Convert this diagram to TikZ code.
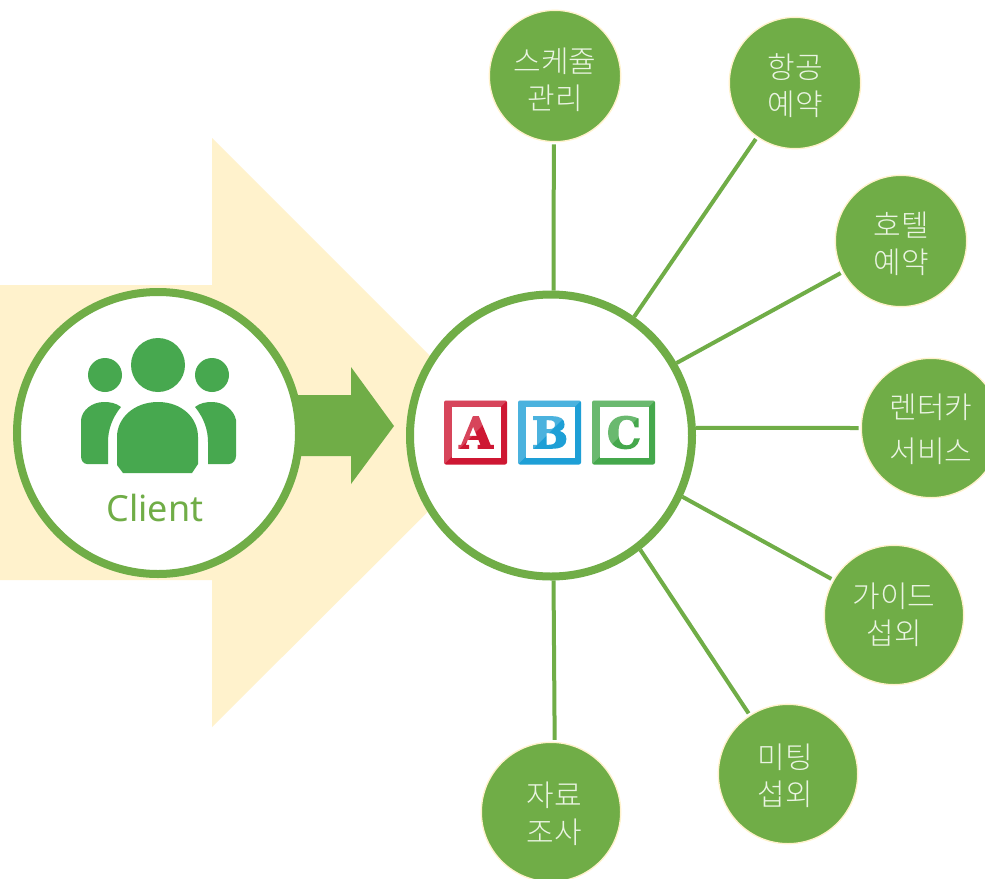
\documentclass[tikz,border=0pt]{standalone}
\usepackage{fontspec}
\newfontfamily\cjk{Noto Sans CJK KR Light}[Script=Hangul]
\newfontfamily\lat{Noto Sans}
\newfontfamily\blockf{DejaVu Serif Bold}[FakeBold=3.5]
\definecolor{gr}{HTML}{70AD47}
\definecolor{ico}{HTML}{47A84F}
\definecolor{pale}{HTML}{FFF2CC}
\definecolor{txt}{HTML}{EAF4E2}
\definecolor{bred}{HTML}{CE1733}
\definecolor{bblue}{HTML}{1E9FD6}
\definecolor{bgreen}{HTML}{45A84C}
\tikzset{
  x=0.75pt,y=-0.75pt,
  sat/.style={circle,fill=gr,draw=pale,line width=1pt,inner sep=0pt,text=txt,
    font=\cjk\fontsize{22.5}{27.75}\selectfont},
  satbig/.style={sat,font=\cjk\fontsize{22.5}{33}\selectfont},
  ring/.style={circle,fill=white,draw=gr,line width=6pt,inner sep=0pt},
  spoke/.style={draw=gr,line width=3pt,shorten >=1.5pt},
  blockletter/.style={font=\blockf\fontsize{32}{32}\selectfont,inner sep=0pt},
}
% two centred lines, moved by #1 px right and #2 px down inside the circle
\newcommand{\sattext}[4]{\hskip\dimexpr 1.5pt*#1\relax\vbox{\vskip\dimexpr 1.5pt*#2\relax\halign{\hfil##\hfil\cr#3\cr#4\cr}}}
\newcommand{\abcblock}[3]{%
  \fill[#3,rounded corners=1.5pt] (#1,400.5) rectangle ++(63,64);
  \fill[white] (#1+7.5,407) rectangle ++(49,51);
  \node[blockletter,text=#3] at (#1+32,432.5) {#2};
  \fill[white,opacity=.2] (#1,400.5) -- (#1+63,400.5) -- (#1,464.5) -- cycle;
}
\begin{document}
\begin{tikzpicture}
\clip (0,0) rectangle (985,878);
\fill[white] (0,0) rectangle (985,878);
% big background arrow
\fill[pale] (0,285) -- (212,285) -- (212,138) -- (507,433) -- (212,727) -- (212,580) -- (0,580) -- cycle;
% nodes
\node[ring,minimum size=211.5pt] (hub) at (551,435.5) {};
\node[ring,minimum size=211.5pt] (client) at (158,433) {};
\node[sat,minimum size=98.5pt] (c1) at (555,76) {\sattext{0}{4}{스케쥴}{관리}};
\node[sat,minimum size=98.5pt] (c2) at (795,83) {\sattext{0}{3}{항공}{예약}};
\node[sat,minimum size=98.5pt] (c3) at (901,241) {\sattext{0}{3}{호텔}{예약}};
\node[satbig,minimum size=104.5pt] (c4) at (931,428) {\sattext{0}{1}{렌터카}{서비스}};
\node[sat,minimum size=104.5pt] (c5) at (894,615) {\sattext{0}{0}{가이드}{섭외}};
\node[sat,minimum size=104.5pt] (c6) at (788,774) {\sattext{-3}{2}{미팅}{섭외}};
\node[sat,minimum size=104.5pt] (c7) at (551,812) {\sattext{3}{2}{자료}{조사}};
% connectors
\path[spoke] (hub.89.2) -- (c1.269);
\path[spoke] (hub.55) -- (c2.235.8);
\path[spoke] (hub.30.7) -- (c3.208.9);
\path[spoke] (hub.3) -- (c4.180);
\path[spoke] (hub.-25.3) -- (c5.150.6);
\path[spoke] (hub.-52.7) -- (c6.123.5);
\path[spoke] (hub.-89.2) -- (c7.87.8);
% block arrow
\fill[gr] (298,395) -- (351,395) -- (351,367) -- (394,426) -- (351,484) -- (351,456) -- (298,456) -- cycle;
% people icon
\fill[ico] (158,365) circle[radius=27];
\fill[ico] (105,375) circle[radius=17];
\fill[ico] (212,375) circle[radius=17];
\fill[ico] (117,437) .. controls (117,418) and (134,402) .. (158,402)
  .. controls (182,402) and (198,418) .. (198,437) -- (198,464) -- (192,473) -- (123,473) -- (117,465) -- cycle;
\fill[ico] (108,464) -- (87,464) .. controls (83,464) and (81,460) .. (81,456) -- (81,420)
  .. controls (82,410) and (92,402) .. (104,402) .. controls (110,402) and (116,403) .. (121,407)
  .. controls (112,418) and (108,430) .. (108,442) -- cycle;
\fill[ico] (208,464) -- (229,464) .. controls (233,464) and (236,460) .. (236,456) -- (236,420)
  .. controls (234,410) and (224,402) .. (212,402) .. controls (206,402) and (200,403) .. (195,407)
  .. controls (204,418) and (208,430) .. (208,442) -- cycle;
\node[text=gr,font=\lat\fontsize{27}{27}\selectfont,inner sep=0pt] (clientlabel) at (155,508) {Client};
% ABC blocks
\abcblock{444}{A}{bred}
\abcblock{518}{B}{bblue}
\abcblock{592}{C}{bgreen}
\end{tikzpicture}
\end{document}
